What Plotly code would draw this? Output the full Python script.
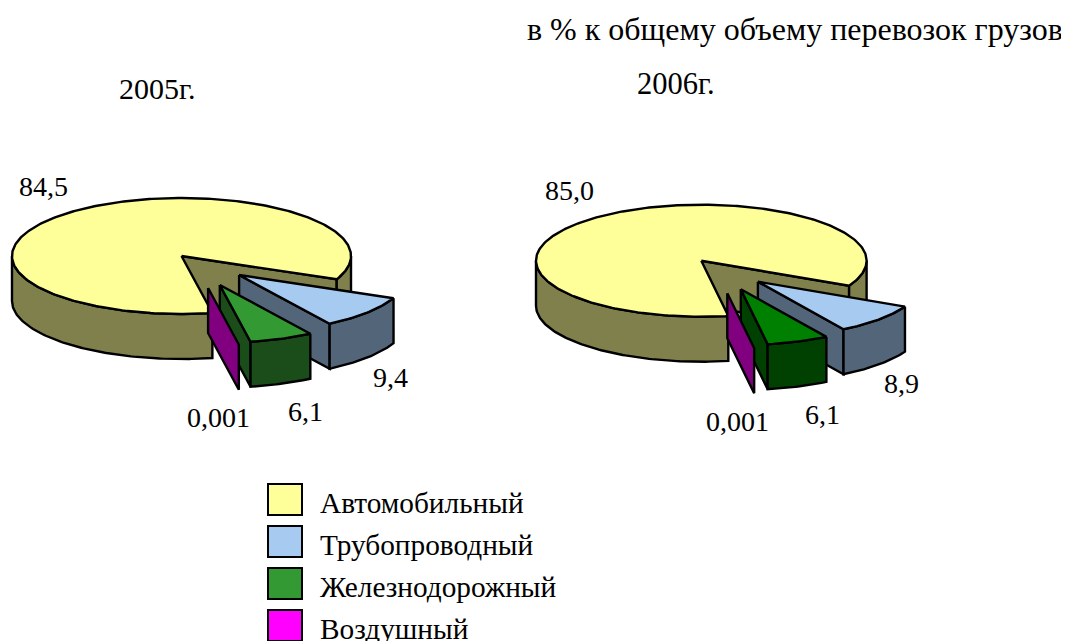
import math
import plotly.graph_objects as go

# ---- data ----
categories = ["Автомобильный", "Трубопроводный", "Железнодорожный", "Воздушный"]
values_2005 = [84.5, 9.4, 6.1, 0.001]
values_2006 = [85.0, 8.9, 6.1, 0.001]
labels_2005 = ["84,5", "9,4", "6,1", "0,001"]
labels_2006 = ["85,0", "8,9", "6,1", "0,001"]

# ---- styles ----
TOP = {"Автомобильный": "#FFFF99", "Трубопроводный": "#A6CAF0", "Воздушный": "#FF00FF"}
WALL = {"Автомобильный": "#80804D", "Трубопроводный": "#536579", "Воздушный": "#800080"}
FONT = "Liberation Serif"
LW = 2.4
DEPTH = 45
PAGE_MARGIN = 8  # the page's body margin; the axes are shifted to absorb it


def arc(g, t0, t1, off=(0, 0), dz=0, r=1.0):
    n = max(2, int(abs(t1 - t0)) + 2)
    ts = [t0 + (t1 - t0) * i / (n - 1) for i in range(n)]
    return [(g["cx"] + off[0] + r * g["rx"] * math.cos(math.radians(t)),
             g["cy"] + off[1] + dz + r * g["ry"] * math.sin(math.radians(t))) for t in ts]


def poly(fig, pts, color, name):
    xs = [p[0] for p in pts] + [pts[0][0]]
    ys = [p[1] for p in pts] + [pts[0][1]]
    fig.add_trace(go.Scatter(x=xs, y=ys, mode="lines", fill="toself", fillcolor=color,
                             line=dict(color="black", width=LW, shape="linear"),
                             name=name, showlegend=False, hoverinfo="name", cliponaxis=False))


def wall(fig, a, color, name):
    poly(fig, a + [(x, y + DEPTH) for x, y in reversed(a)], color, name)


def draw_pie(fig, vals, g):
    total = sum(vals)
    spans = [v / total * 360 for v in vals]
    car = categories[0]
    start = g["end"] + spans[0] - 360        # clockwise on screen; gap opens here
    end = g["end"]
    apex = (g["cx"], g["cy"])
    # main body
    rim = arc(g, start, start)[0]
    wall(fig, [apex, rim], WALL[car], car)
    wall(fig, arc(g, 0, start), WALL[car], car)
    wall(fig, arc(g, end, 180), WALL[car], car)
    poly(fig, [apex] + arc(g, end, start + 360), TOP[car], car)
    # exploded slices, back to front
    t = start
    for i in range(1, 4):
        name = categories[i]
        t1 = t + spans[i]
        off = g["off"][i - 1]
        a = (g["cx"] + off[0], g["cy"] + off[1])
        top = g["green"][0] if i == 2 else TOP[name]
        side = g["green"][1] if i == 2 else WALL[name]
        outer = arc(g, t, t1, off, r=0.995)
        wall(fig, [a, outer[-1]], side, name)
        if i < 3:
            wall(fig, outer, side, name)
            poly(fig, [a] + outer, top, name)
        t = t1


LEFT = dict(cx=181.5, cy=256, rx=169.5, ry=58, end=79.5,
            off=[(57.6, 19), (38.3, 29), (26.6, 32)], green=("#339933", "#1A4D1A"))
RIGHT = dict(cx=701.3, cy=260.7, rx=165.3, ry=56, end=80.6,
             off=[(56.6, 21), (39.5, 28.6), (26, 32.6)], green=("#008000", "#004000"))

fig = go.Figure()
draw_pie(fig, values_2005, LEFT)
draw_pie(fig, values_2006, RIGHT)

ann = []


def text(x, y, s, anchor="center", size=27):
    ann.append(dict(x=x, y=y, xref="x", yref="y", text=s, showarrow=False, xanchor=anchor,
                    yanchor="middle", font=dict(family=FONT, size=size, color="black")))


text(794.5, 29, "в % к общему объему перевозок грузов", size=32)
text(157, 88.5, "2005г.", size=30)
text(676, 83.5, "2006г.", size=30.5)
for s, (x, y) in zip(labels_2005, [(43, 186), (390, 377), (305, 411), (218.5, 417)]):
    text(x, y, s, size=28)
for s, (x, y) in zip(labels_2006, [(569.5, 190), (901, 383), (822, 414), (737, 421)]):
    text(x, y, s, size=28)

shapes = []
legend_colors = ["#FFFF99", "#A6CAF0", "#339933", "#FF00FF"]
for i, (c, col) in enumerate(zip(categories, legend_colors)):
    y0 = 484 + 42 * i
    shapes.append(dict(type="rect", xref="x", yref="y", x0=268, x1=302, y0=y0, y1=y0 + 31,
                       fillcolor=col, line=dict(color="black", width=2)))
    text(317.5, y0 + 18.5, c, anchor="left", size=29.3)

fig.update_layout(
    width=1069 - PAGE_MARGIN, height=641 - PAGE_MARGIN, margin=dict(l=0, r=0, t=0, b=0),
    autosize=False, paper_bgcolor="white", plot_bgcolor="white", showlegend=False,
    xaxis=dict(range=[PAGE_MARGIN, 1069], visible=False, fixedrange=True),
    yaxis=dict(range=[641, PAGE_MARGIN], visible=False, fixedrange=True),
    annotations=ann, shapes=shapes,
)
fig.write_html("out.html", config=dict(displayModeBar=False))
